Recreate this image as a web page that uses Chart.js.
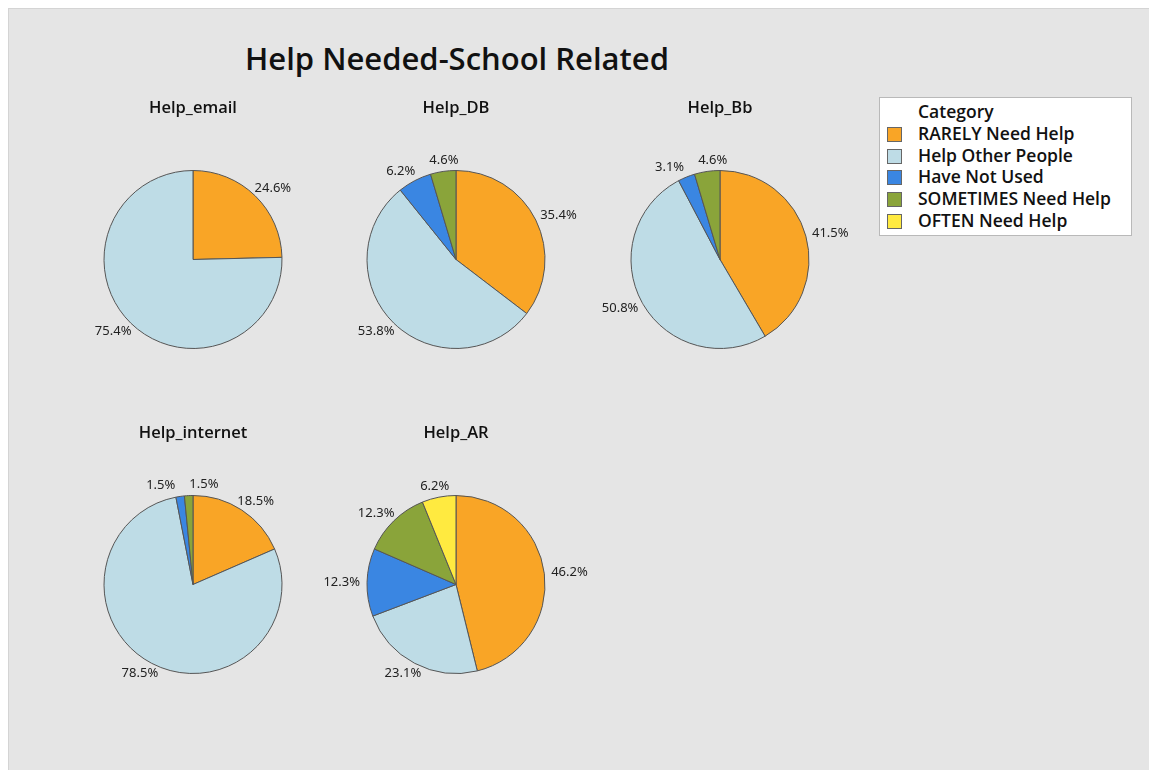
<!DOCTYPE html>
<html>
<head>
<meta charset="utf-8">
<script src="https://cdn.jsdelivr.net/npm/chart.js@4/dist/chart.umd.min.js"></script>
<style>
  body { margin: 0; background: #fff; font-family: "Open Sans", sans-serif; }
  #panel { position: absolute; left: 8px; top: 8px; width: 1150px; height: 770px;
           background: #e5e5e5; border-top: 1px solid #d4d4d4; border-left: 1px solid #d4d4d4; }
  #main-title { position: absolute; left: 0; width: 914px; top: 37px; text-align: center;
                font-size: 31px; font-weight: 600; color: #111; }
  .pie { position: absolute; width: 300px; height: 302px; }
  #legend { position: absolute; left: 879px; top: 97px; width: 253px; height: 139px;
            background: #fff; border: 1px solid #b9b9b9; box-sizing: border-box; }
  #legend .head { position: absolute; left: 38px; top: 1px; font-size: 17.5px; font-weight: 600; color: #111; }
  #legend .item { position: absolute; left: 7px; font-size: 17.5px; font-weight: 600; color: #111; height: 20px; }
  #legend .sw { position: absolute; left: 0; top: 3px; width: 15px; height: 15px;
                box-sizing: border-box; border: 1px solid #666; }
  #legend .lab { position: absolute; left: 31px; top: -3px; white-space: nowrap; }
</style>
</head>
<body>
<div id="panel"></div>
<div id="main-title">Help Needed-School Related</div>
<div id="legend"></div>
<div class="pie" style="left:43px;top:92px"><canvas id="help-email" width="300" height="302"></canvas></div>
<div class="pie" style="left:306px;top:92px"><canvas id="help-db" width="300" height="302"></canvas></div>
<div class="pie" style="left:570px;top:92px"><canvas id="help-bb" width="300" height="302"></canvas></div>
<div class="pie" style="left:43px;top:417px"><canvas id="help-internet" width="300" height="302"></canvas></div>
<div class="pie" style="left:306px;top:417px"><canvas id="help-ar" width="300" height="302"></canvas></div>
<script>
  var categories = ['RARELY Need Help', 'Help Other People', 'Have Not Used', 'SOMETIMES Need Help', 'OFTEN Need Help'];
  var colors = ['#F9A526', '#BEDCE6', '#3A86E2', '#8AA43A', '#FFEA40'];

  // counts per category (65 answers each)
  var help_email = [16, 49, 0, 0, 0];
  var help_db = [23, 35, 4, 3, 0];
  var help_bb = [27, 33, 2, 3, 0];
  var help_internet = [12, 51, 1, 1, 0];
  var help_ar = [30, 15, 8, 8, 4];

  var FONT = '"Open Sans", sans-serif';
  var LABEL_FONT = '"Noto Sans", sans-serif';

  // percent labels outside the slices, pushed apart when they collide
  var pctLabels = {
    id: 'pctLabels',
    afterDatasetsDraw: function(chart) {
      var ctx = chart.ctx;
      var data = chart.data.datasets[0].data;
      var total = data.reduce(function(a, b) { return a + b; }, 0);
      var boxes = [];
      ctx.save();
      ctx.font = '13px ' + LABEL_FONT;
      chart.getDatasetMeta(0).data.forEach(function(arc, i) {
        if (!data[i]) return;
        var p = arc.getProps(['x', 'y', 'startAngle', 'endAngle', 'outerRadius'], true);
        var a = (p.startAngle + p.endAngle) / 2;
        var txt = (data[i] / total * 100).toFixed(1) + '%';
        var w = ctx.measureText(txt).width, h = 13;
        var px = p.x + (p.outerRadius + 7) * Math.cos(a);
        var py = p.y + (p.outerRadius + 7) * Math.sin(a);
        boxes.push({ txt: txt, w: w, h: h, cx: px + Math.cos(a) * w / 2, cy: py + Math.sin(a) * h * 0.3 });
      });
      for (var pass = 0; pass < 10; pass++) {
        for (var i = 0; i < boxes.length; i++) {
          for (var j = i + 1; j < boxes.length; j++) {
            var b1 = boxes[i], b2 = boxes[j];
            var ox = (b1.w + b2.w) / 2 + 14 - Math.abs(b1.cx - b2.cx);
            var oy = (b1.h + b2.h) / 2 + 2 - Math.abs(b1.cy - b2.cy);
            if (ox > 0 && oy > 0) {
              var s = b1.cx < b2.cx ? -1 : 1;
              b1.cx += s * ox / 2;
              b2.cx -= s * ox / 2;
            }
          }
        }
      }
      ctx.fillStyle = '#222';
      ctx.textAlign = 'center';
      ctx.textBaseline = 'middle';
      boxes.forEach(function(b) { ctx.fillText(b.txt, b.cx, b.cy); });
      ctx.restore();
    }
  };

  function makePie(id, title, values) {
    return new Chart(document.getElementById(id).getContext('2d'), {
      type: 'pie',
      data: {
        labels: categories,
        datasets: [{
          data: values,
          backgroundColor: colors,
          borderColor: '#555555',
          borderWidth: 1
        }]
      },
      options: {
        responsive: false,
        animation: false,
        radius: 89,
        layout: { padding: 0 },
        plugins: {
          legend: { display: false },
          tooltip: { enabled: false },
          title: {
            display: true,
            text: title,
            color: '#111',
            font: { family: FONT, size: 16.5, weight: 600 },
            padding: { top: 6, bottom: 7.2 }
          }
        }
      },
      plugins: [pctLabels]
    });
  }

  var legend = document.getElementById('legend');
  var head = document.createElement('div');
  head.className = 'head';
  head.textContent = 'Category';
  legend.appendChild(head);
  categories.forEach(function(c, i) {
    var item = document.createElement('div');
    item.className = 'item';
    item.style.top = (26 + i * 21.7) + 'px';
    item.innerHTML = '<span class="sw" style="background:' + colors[i] + '"></span><span class="lab"></span>';
    item.querySelector('.lab').textContent = c;
    legend.appendChild(item);
  });

  makePie('help-email', 'Help_email', help_email);
  makePie('help-db', 'Help_DB', help_db);
  makePie('help-bb', 'Help_Bb', help_bb);
  makePie('help-internet', 'Help_internet', help_internet);
  makePie('help-ar', 'Help_AR', help_ar);
</script>
</body>
</html>
